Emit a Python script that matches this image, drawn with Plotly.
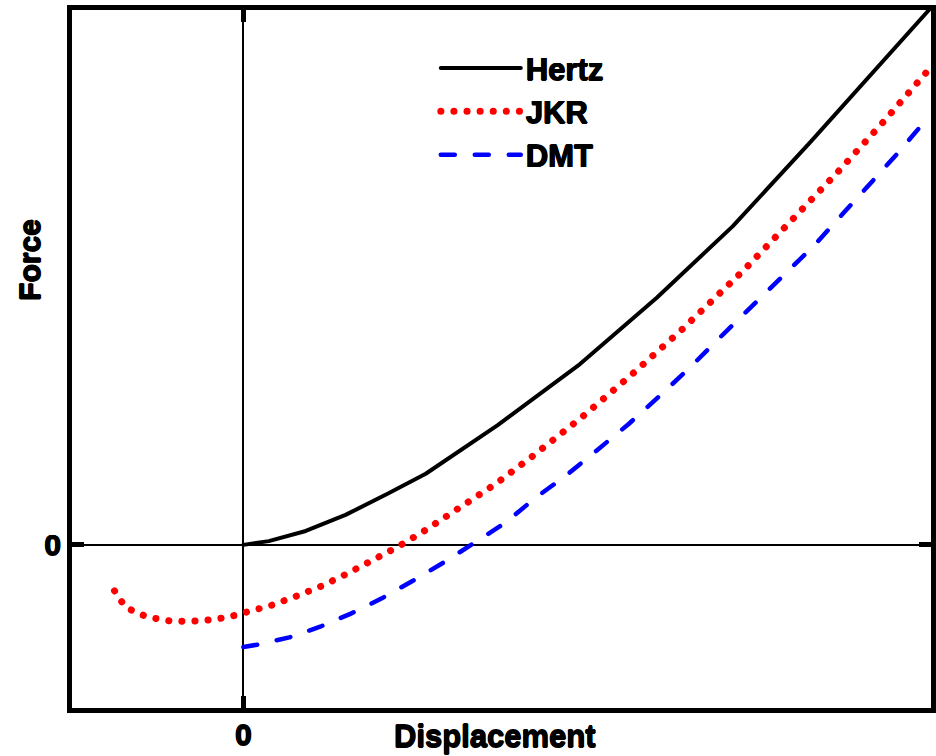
import plotly.graph_objects as go

# Force–displacement curves (arbitrary units, zero at contact)
hertz_x = [0.0, 0.037, 0.091, 0.149, 0.211, 0.266, 0.371, 0.491, 0.603, 0.714, 0.827, 0.936, 1.0]
hertz_y = [0.0, 0.007, 0.026, 0.056, 0.096, 0.133, 0.224, 0.338, 0.462, 0.596, 0.753, 0.910, 1.0]

jkr_x = [-0.188, -0.172, -0.140, -0.108, -0.079, -0.044, -0.013, 0.006, 0.041, 0.077, 0.114,
         0.151, 0.186, 0.223, 0.259, 0.296, 0.332, 0.368, 0.422, 0.495, 0.567, 0.641, 0.731,
         0.798, 0.867, 0.933, 0.996, 1.0]
jkr_y = [-0.086, -0.117, -0.135, -0.142, -0.143, -0.140, -0.132, -0.125, -0.113, -0.096, -0.077,
         -0.054, -0.031, -0.005, 0.022, 0.052, 0.082, 0.114, 0.166, 0.240, 0.319, 0.404, 0.515,
         0.604, 0.697, 0.790, 0.884, 0.889]

dmt_x = [0.0, 0.023, 0.067, 0.112, 0.156, 0.202, 0.246, 0.292, 0.336, 0.383, 0.424, 0.470,
         0.515, 0.562, 0.605, 0.651, 0.689, 0.787, 0.832, 0.873, 0.915, 0.955, 0.994, 1.0]
dmt_y = [-0.191, -0.186, -0.173, -0.153, -0.129, -0.100, -0.068, -0.033, 0.003, 0.042, 0.086,
         0.129, 0.176, 0.226, 0.276, 0.331, 0.380, 0.501, 0.559, 0.617, 0.676, 0.733, 0.792, 0.801]

tick_vals = [0]
tick_text = ["0"]

FONT = "Liberation Sans, Arial, sans-serif"
# a thin shadow ring makes the bold lettering a little heavier
HEAVY = "0.6px 0 0 #000, -0.6px 0 0 #000, 0 0.6px 0 #000, 0 -0.6px 0 #000"


def heavy_font(size):
    return dict(family=FONT, size=size, color="black", weight="bold", shadow=HEAVY)


fig = go.Figure()
fig.add_trace(go.Scatter(x=hertz_x, y=hertz_y, mode="lines", name="Hertz",
                         line=dict(color="black", width=4)))
fig.add_trace(go.Scatter(x=jkr_x, y=jkr_y, mode="lines", name="JKR",
                         line=dict(color="#ff0000", width=7, dash="0.1px,13px")))
fig.add_trace(go.Scatter(x=dmt_x, y=dmt_y, mode="lines", name="DMT",
                         line=dict(color="#0000ff", width=4.5, dash="14px,20px")))

axis_style = dict(
    showgrid=False,
    zeroline=True, zerolinecolor="black", zerolinewidth=1.5,
    showline=True, linecolor="black", linewidth=5, mirror="ticks",
    ticks="inside", ticklen=12, tickwidth=5, tickcolor="black",
    tickvals=tick_vals, ticktext=tick_text,
    tickfont=heavy_font(30),
)

fig.update_xaxes(range=[-0.25, 1.003], ticklabelstandoff=-4, **axis_style)
fig.update_yaxes(range=[-0.305, 1.0], **axis_style)

fig.update_layout(
    width=936, height=756,
    margin=dict(l=72, r=0, t=10, b=48),
    paper_bgcolor="white", plot_bgcolor="white",
    showlegend=True,
    legend=dict(
        x=0.4235, y=0.955, xanchor="left", yanchor="top",
        bgcolor="rgba(0,0,0,0)", borderwidth=0,
        itemwidth=80,
        font=heavy_font(31),
    ),
    annotations=[
        dict(text="Displacement", xref="paper", yref="paper", x=0.492, y=-0.0688,
             xanchor="center", yanchor="bottom", showarrow=False,
             font=heavy_font(31)),
        dict(text="Force", xref="paper", yref="paper", x=-0.049, y=0.642,
             xanchor="center", yanchor="middle", showarrow=False, textangle=-90,
             font=heavy_font(30)),
    ],
)

# Round line caps so the dotted and dashed styles show round dots and dash ends
post = """
var gd = document.getElementById('{plot_id}');
function roundCaps() {
  gd.querySelectorAll('path.js-line').forEach(function (p) {
    p.style.strokeLinecap = 'round';
    p.style.strokeLinejoin = 'round';
  });
}
roundCaps();
gd.on('plotly_afterplot', roundCaps);
"""

fig.write_html("out.html", post_script=post)
